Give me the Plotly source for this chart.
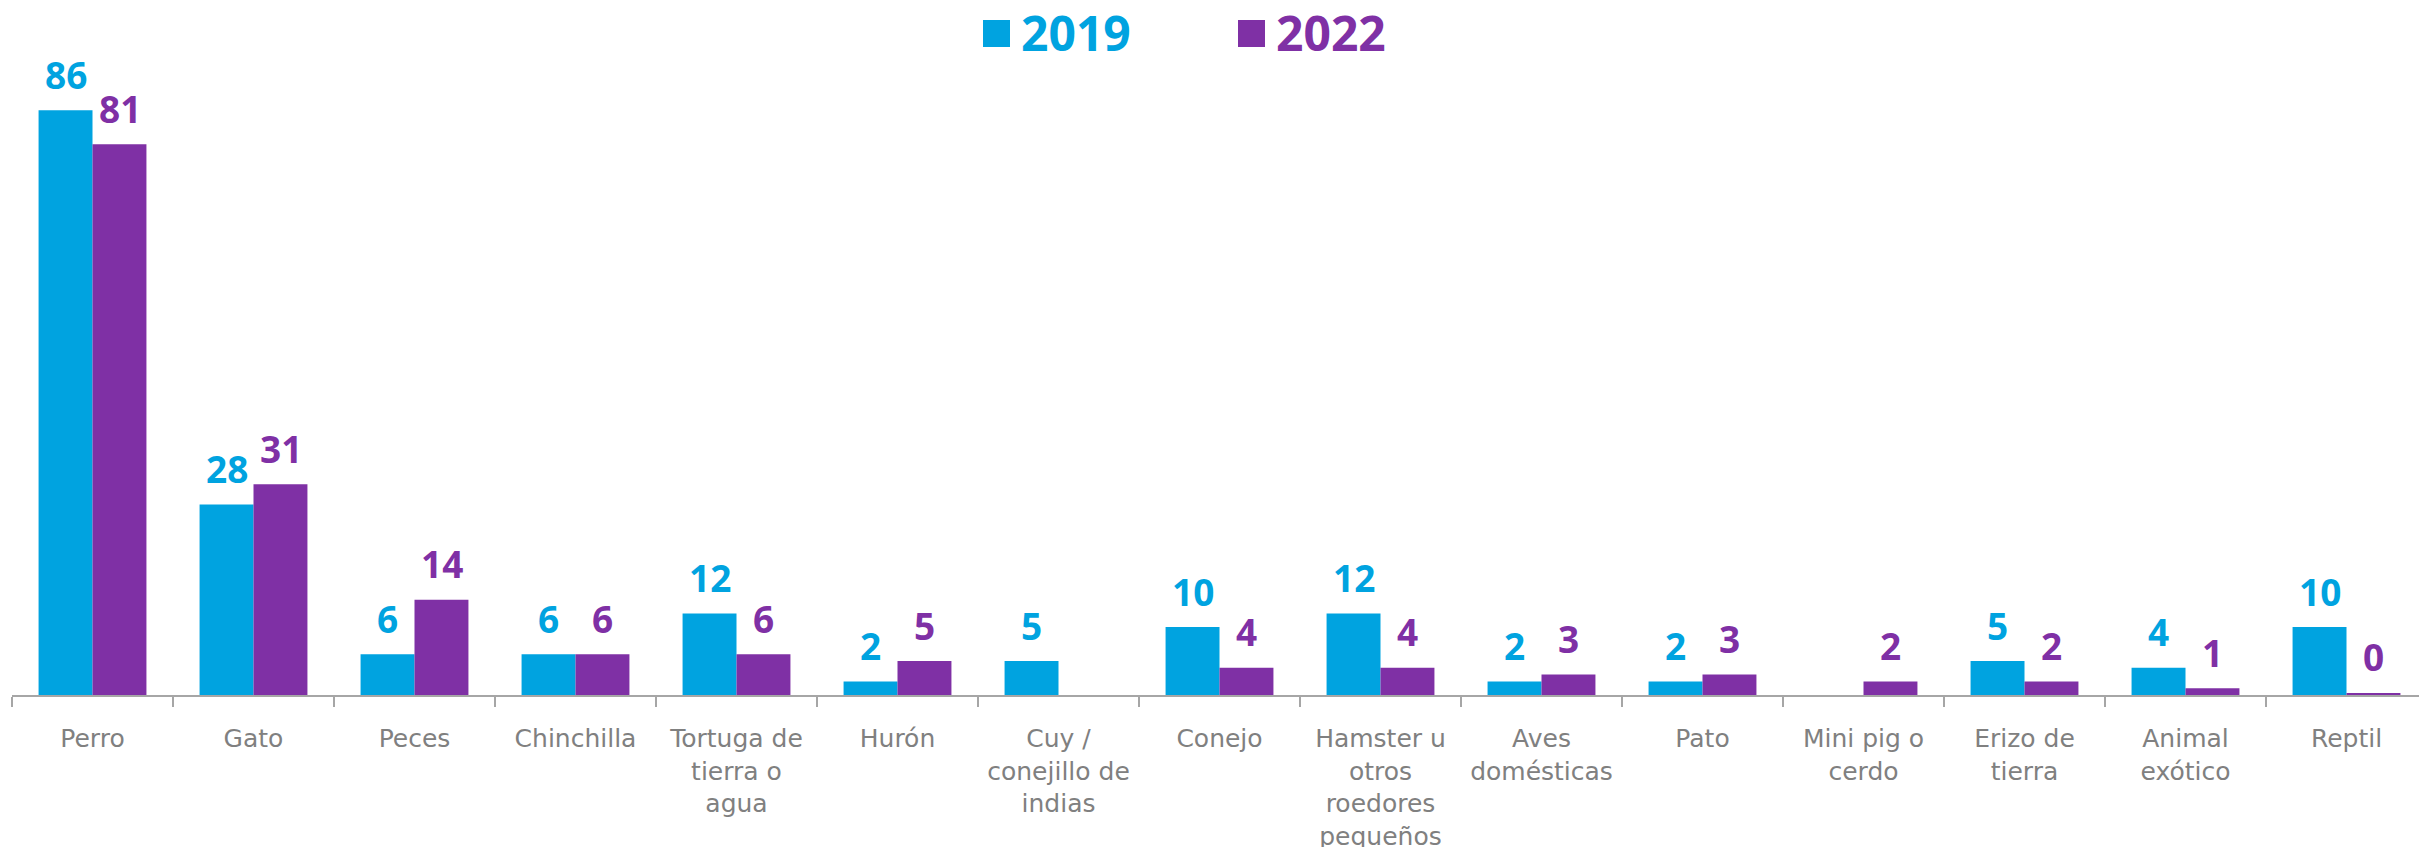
import plotly.graph_objects as go

categories = [
    "Perro", "Gato", "Peces", "Chinchilla", "Tortuga de<br>tierra o<br>agua", "Hurón",
    "Cuy /<br>conejillo de<br>indias", "Conejo", "Hamster u<br>otros<br>roedores<br>pequeños",
    "Aves<br>domésticas", "Pato", "Mini pig o<br>cerdo", "Erizo de<br>tierra",
    "Animal<br>exótico", "Reptil",
]
values_2019 = [86, 28, 6, 6, 12, 2, 5, 10, 12, 2, 2, None, 5, 4, 10]
values_2022 = [81, 31, 14, 6, 6, 5, None, 4, 4, 3, 3, 2, 2, 1, 0.3]
series_names = ["2019", "2022"]

BLUE = "#00A3E0"
PURPLE = "#7F30A5"
GRAY = "#808080"
FONT = "Open Sans"

# page places the figure at (8, 8); geometry below is in screenshot px
OFF = 8
L, W, B, H = 12, 2415, 695, 646
BAR_HALF = 27  # half bar width in px, used to centre labels over grouped bars

fig = go.Figure()
series = [(series_names[0], values_2019, BLUE, -BAR_HALF),
          (series_names[1], values_2022, PURPLE, BAR_HALF)]
for name, vals, col, shift in series:
    fig.add_trace(go.Bar(
        x=categories, y=vals, name=name,
        marker=dict(color=col, line=dict(width=0)),
        showlegend=False,
    ))
    for cat, v in zip(categories, vals):
        if v is None:
            continue
        fig.add_annotation(
            x=cat, y=v, xref="x", yref="y", showarrow=False,
            text=f"<b>{v:.0f}</b>", xshift=shift, yshift=36,
            xanchor="center", yanchor="middle",
            font=dict(family=FONT, size=37, color=col),
        )

# legend drawn as squares + labels
leg = [(series_names[0], BLUE, 983, 1019), (series_names[1], PURPLE, 1238, 1274)]
for name, col, sx, tx in leg:
    fig.add_shape(type="rect", xref="paper", yref="paper",
                  x0=(sx - L) / W, x1=(sx + 27 - L) / W,
                  y0=(B - 47) / H, y1=(B - 20) / H,
                  fillcolor=col, line=dict(width=0))
    fig.add_annotation(xref="paper", yref="paper", x=(tx - L) / W, y=(B - 33) / H,
                       xanchor="left", yanchor="middle", showarrow=False,
                       text=f"<b>{name}</b>",
                       font=dict(family=FONT, size=48, color=col))

FW, FH = 2427 - OFF, 847 - OFF
top = B - H - OFF
fig.update_layout(
    width=FW, height=FH,
    margin=dict(l=L - OFF, r=FW - (L - OFF) - W, t=top, b=FH - top - H, autoexpand=False),
    plot_bgcolor="white", paper_bgcolor="white",
    barmode="group", bargap=0.33, bargroupgap=0,
    xaxis=dict(
        showline=True, linecolor="#A6A6A6", linewidth=2,
        ticks="outside", tickson="boundaries", ticklen=10, tickcolor="#A6A6A6", tickwidth=2,
        tickfont=dict(family="DejaVu Sans", size=25, color=GRAY),
        ticklabelstandoff=20, automargin=False,
        showgrid=False,
    ),
    yaxis=dict(range=[0, 95], visible=False, showgrid=False, zeroline=False, automargin=False),
)

fig.write_html("out.html")
